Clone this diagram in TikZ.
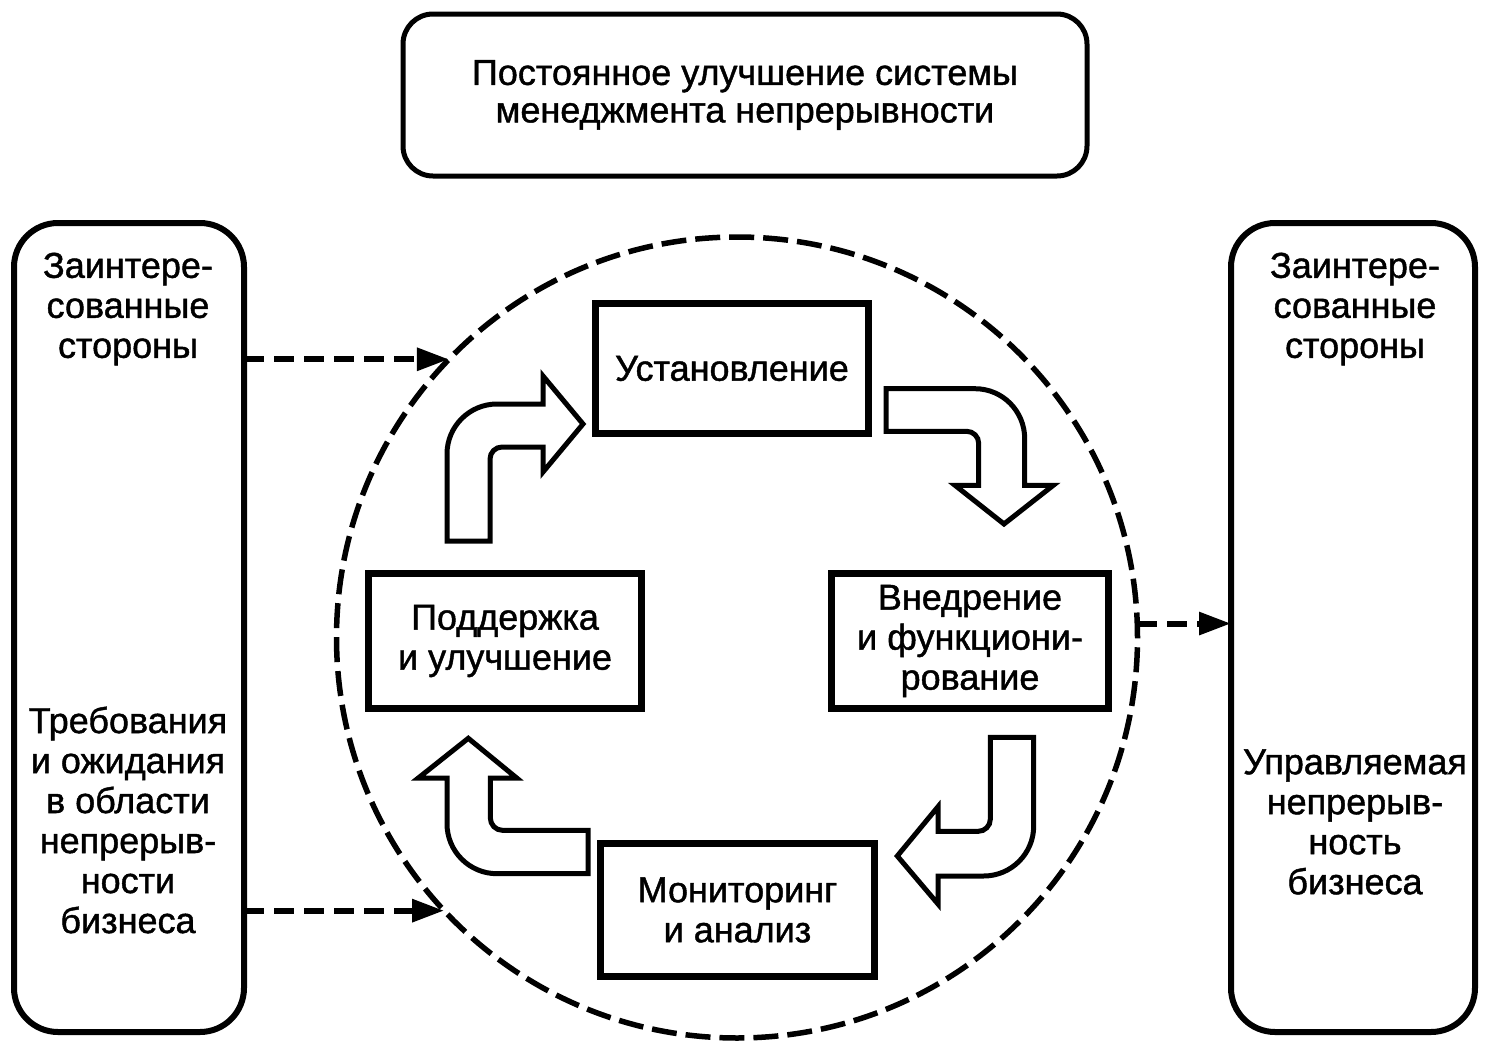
\documentclass[tikz,border=0pt]{standalone}
\usepackage{fontspec}
\setmainfont{Liberation Sans}[FakeBold=1.2]
\usetikzlibrary{arrows.meta}
\begin{document}
\begin{tikzpicture}[x=0.5pt,y=-0.5pt,
  txt/.style={font=\fontsize{18pt}{20pt}\selectfont, align=center, inner sep=0pt},
  stagebox/.style={txt, draw, line width=3.25pt, outer sep=0pt},
  sidebox/.style={draw, line width=3pt, rounded corners=22pt, minimum height=404.5pt, inner sep=0pt, outer sep=0pt},
  conn/.style={line width=3pt, dash pattern=on 10pt off 5pt, -{Triangle[length=16pt,width=11pt]}},
  blockarrow/.style={draw, fill=white, line width=2.5pt, line join=miter},
  cycle ring/.style={circle, draw, line width=2.75pt, dash pattern=on 12.5pt off 4.5pt, minimum size=400.5pt, inner sep=0pt, outer sep=0pt}
]
\fill[white] (0,0) rectangle (1490,1050);
\useasboundingbox (0,0) rectangle (1490,1050);

% top box
\node[txt, font=\fontsize{18pt}{18.75pt}\selectfont, draw, line width=2.5pt, rounded corners=15pt, minimum width=342pt, minimum height=81pt] (top) at (745,95)
  {Постоянное улучшение системы\\менеджмента непрерывности};

% side boxes
\node[sidebox, minimum width=115pt] (L) at (129,627.5) {};
\node[sidebox, minimum width=122pt] (R) at (1353,627.5) {};
\node[txt] (Lt) at (128,309) {Заинтере-\\сованные\\стороны};
\node[txt] (Lb) at (128,820) {Требования\\и ожидания\\в области\\непрерыв-\\ности\\бизнеса};
\node[txt] (Rt) at (1355,309) {Заинтере-\\сованные\\стороны};
\node[txt] (Rb) at (1355,822) {Управляемая\\непрерыв-\\ность\\бизнеса};

% dashed cycle
\node[cycle ring] (cyc) at (737,637.5) {};

% stages
\node[stagebox, minimum width=136.5pt, minimum height=65pt] (est) at (732,368.5) {Установление};
\node[stagebox, minimum width=138.5pt, minimum height=67.5pt] (impl) at (970,641) {Внедрение\\и функциони-\\рование};
\node[stagebox, minimum width=136.5pt, minimum height=67.5pt] (sup) at (505,641) {Поддержка\\и улучшение};
\node[stagebox, minimum width=137pt, minimum height=66.5pt] (mon) at (737.5,910) {Мониторинг\\и анализ};

% block arrows
\path[blockarrow] (447,541) -- (447,454) .. controls (447,426.4) and (469.4,404) .. (497,404)
  -- (543,404) -- (543,376) -- (583,424) -- (543,472) -- (543,447) -- (502,447)
  .. controls (495.4,447) and (490,452.4) .. (490,459) -- (490,541) -- cycle;
\path[blockarrow] (886,388.7) -- (975,388.7) .. controls (1002.6,388.7) and (1024.7,411.1) .. (1024.7,438.7)
  -- (1024.7,485.3) -- (1053.3,485.3) -- (1004,524) -- (955,485.3) -- (978.7,485.3) -- (978.7,443.3)
  .. controls (978.7,436.7) and (973.3,431.3) .. (966.7,431.3) -- (886,431.3) -- cycle;
\path[blockarrow] (990.3,737.3) -- (1033.7,737.3) -- (1033.7,826) .. controls (1033.7,853.6) and (1011.3,876) .. (983.7,876)
  -- (938,876) -- (938,904) -- (897.3,856) -- (938,806.7) -- (938,831.3) -- (978.3,831.3)
  .. controls (984.9,831.3) and (990.3,825.9) .. (990.3,819.3) -- cycle;
\path[blockarrow] (588,830.3) -- (588,873.7) -- (497,873.7) .. controls (469.4,873.7) and (447,851.3) .. (447,823.7)
  -- (447,778) -- (418.3,778) -- (468.3,738.3) -- (516.7,778) -- (490.3,778) -- (490.3,818)
  .. controls (490.3,824.6) and (495.7,830.3) .. (502.3,830.3) -- cycle;

% dashed connectors
\draw[conn] (L.east |- cyc.136.54) -- (cyc.136.54);
\draw[conn] (L.east |- cyc.223.27) -- (cyc.223.27);
\draw[conn] (cyc.2.79) -- (R.west |- cyc.2.79);
\end{tikzpicture}
\end{document}
